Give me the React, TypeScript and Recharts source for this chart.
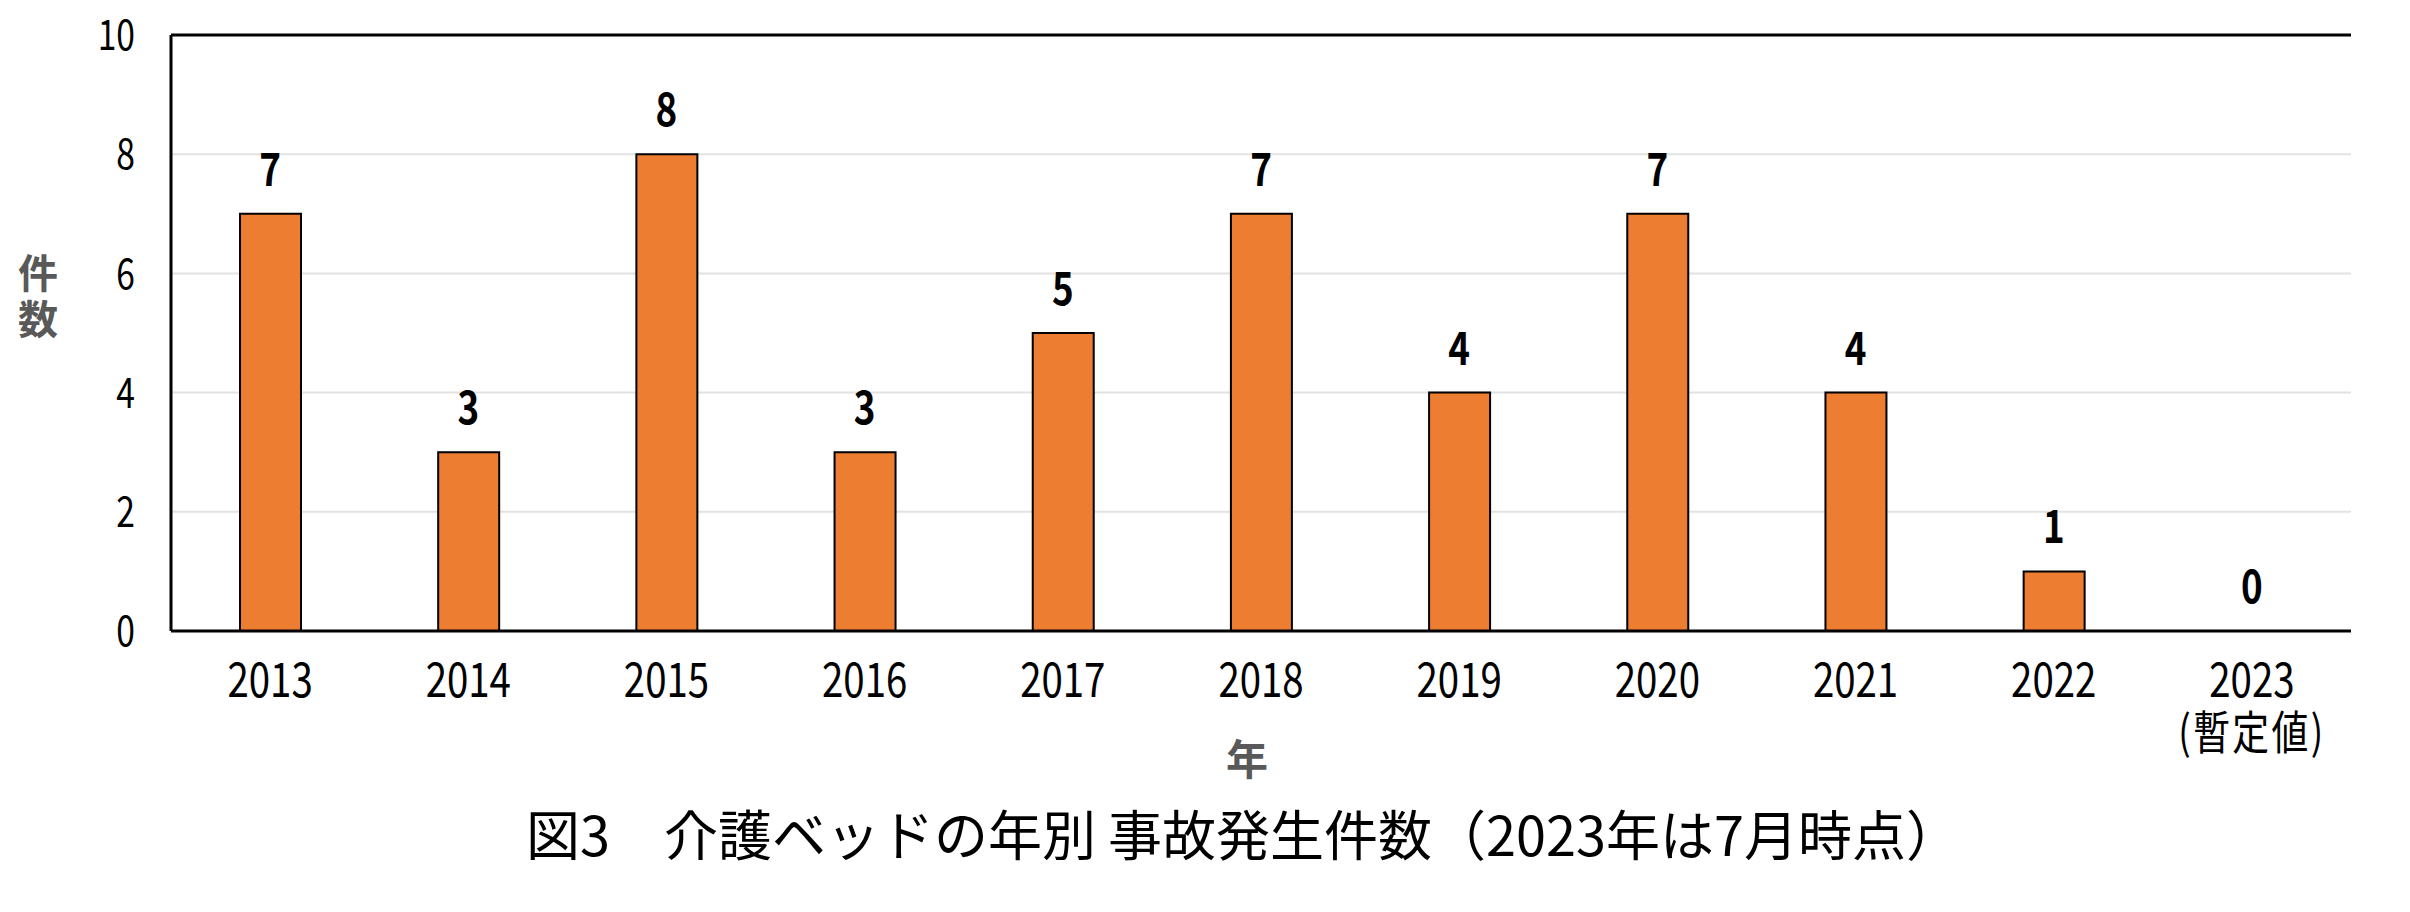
import { ComposedChart, Bar, Line, XAxis, YAxis, CartesianGrid, LabelList, ReferenceLine, Label } from 'recharts';

const years = ['2013', '2014', '2015', '2016', '2017', '2018', '2019', '2020', '2021', '2022', '2023'];
const counts = [7, 3, 8, 3, 5, 7, 4, 7, 4, 1, 0];
const yTicks = [0, 2, 4, 6, 8, 10];
const noteByYear: Record<string, string> = { '2023': '(暫定値)' };

const data = years.map((year, i) => ({ year, count: counts[i] }));

const FONT = '"Noto Sans CJK JP", "Noto Sans", sans-serif';
const SQUEEZE = 0.8;

const XTick = (props: any) => {
  const { x, y, payload } = props;
  const note = noteByYear[payload.value];
  return (
    <g transform={`translate(${x},${y + 66}) scale(${SQUEEZE},1)`}>
      <text x={0} y={0} textAnchor="middle" fontSize={48} fontFamily={FONT} fill="#000">
        {payload.value}
      </text>
      {note && (
        <text x={0} y={52} textAnchor="middle" fontSize={46} fontFamily={FONT} fill="#000" letterSpacing={3}>
          {note}
        </text>
      )}
    </g>
  );
};

const YTick = (props: any) => {
  const { x, y, payload } = props;
  return (
    <g transform={`translate(${x},${y}) scale(${SQUEEZE},1)`}>
      <text x={0} y={0} dy="0.36em" textAnchor="end" fontSize={42} fontFamily={FONT} fill="#000">
        {payload.value}
      </text>
    </g>
  );
};

// labels sit on an invisible line so the zero value still gets one
const ValueLabel = (props: any) => {
  const { x, y, value } = props;
  return (
    <g transform={`translate(${x},${y - 28}) scale(${SQUEEZE},1)`}>
      <text x={0} y={0} textAnchor="middle" fontSize={46} fontWeight="bold" fontFamily={FONT} fill="#000">
        {value}
      </text>
    </g>
  );
};

const YTitle = (props: any) => {
  const { viewBox } = props;
  const cx = viewBox.x + 38;
  const cy = viewBox.y + viewBox.height / 2 - 45;
  return (
    <text x={cx} y={cy} textAnchor="middle" fontSize={40} fontWeight="bold" fontFamily={FONT} fill="#595959">
      <tspan x={cx} dy="0">件</tspan>
      <tspan x={cx} dy="1.15em">数</tspan>
    </text>
  );
};

const XTitle = (props: any) => {
  const { viewBox } = props;
  return (
    <text
      x={viewBox.x + viewBox.width / 2 - 14}
      y={viewBox.y + 144}
      textAnchor="middle"
      fontSize={42}
      fontWeight="bold"
      fontFamily={FONT}
      fill="#595959"
    >
      年
    </text>
  );
};

export default function App() {
  return (
    <div style={{ position: 'absolute', left: 0, top: 0, width: 2410, height: 912, background: '#fff' }}>
      <ComposedChart width={2410} height={912} data={data} margin={{ top: 35, right: 59, left: 0, bottom: 0 }}>
        <CartesianGrid vertical={false} stroke="#e2e2e2" strokeWidth={2} />
        <XAxis
          dataKey="year"
          height={281}
          tickSize={0}
          tickMargin={0}
          tickLine={false}
          axisLine={{ stroke: '#000', strokeWidth: 3 }}
          tick={<XTick />}
          interval={0}
        >
          <Label content={<XTitle />} />
        </XAxis>
        <YAxis
          width={171}
          domain={[0, 10]}
          ticks={yTicks}
          tickSize={0}
          tickMargin={36}
          tickLine={false}
          axisLine={{ stroke: '#000', strokeWidth: 3 }}
          tick={<YTick />}
        >
          <Label content={<YTitle />} />
        </YAxis>
        <YAxis
          yAxisId="frame"
          orientation="right"
          width={0}
          domain={[0, 10]}
          tick={false}
          tickLine={false}
          axisLine={{ stroke: '#000', strokeWidth: 3 }}
        />
        <ReferenceLine y={10} stroke="#000" strokeWidth={3} />
        <Bar dataKey="count" fill="#ED7D31" stroke="#000" strokeWidth={2} barSize={61} isAnimationActive={false} />
        <Line dataKey="count" stroke="none" dot={false} activeDot={false} isAnimationActive={false}>
          <LabelList dataKey="count" content={<ValueLabel />} />
        </Line>
      </ComposedChart>
      <svg width={2410} height={912} style={{ position: 'absolute', left: 0, top: 0, pointerEvents: 'none' }}>
        <text x={1243} y={856} textAnchor="middle" fontSize={54} fontFamily={FONT} fill="#000">
          図3　介護ベッドの年別 事故発生件数（2023年は7月時点）
        </text>
      </svg>
    </div>
  );
}
